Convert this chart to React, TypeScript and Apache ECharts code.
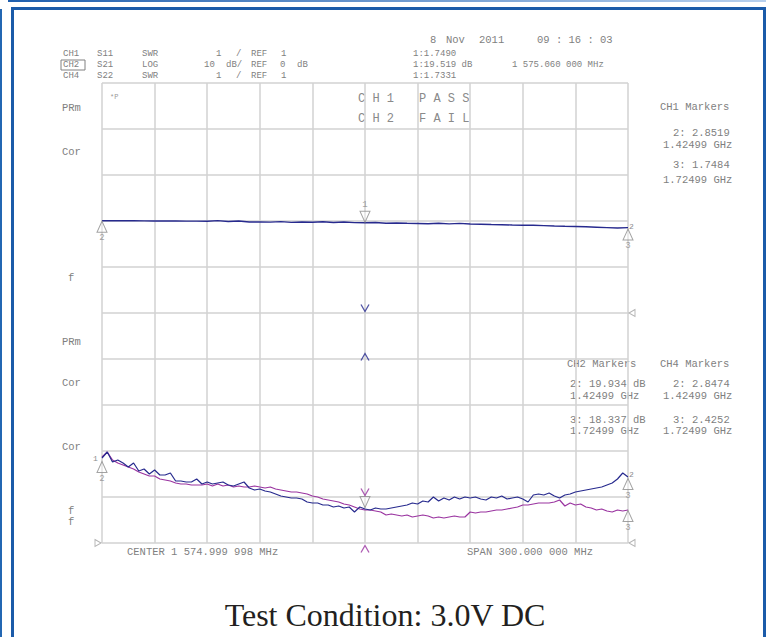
import React, { useEffect, useRef } from "react";
import * as echarts from "echarts";

// Sweep: 1425 MHz .. 1725 MHz (x values are MHz offset from start of span)
const SPAN_MHZ = 300;
const CH1_STEP_MHZ = 6;
const CH24_STEP_MHZ = 3;

// Screen level of each trace, 46 units per graticule division, 0 = bottom line
const ch1Level = [
  322.3, 322.3, 322.2, 322.2, 322.1, 322.0, 322.0, 322.0, 321.9, 321.9,
  321.8, 322.4, 321.5, 322.0, 321.0, 321.0, 320.9, 321.4, 320.6, 321.0,
  320.7, 321.2, 320.5, 321.0, 320.4, 320.2, 320.5, 319.8, 320.0, 319.7,
  319.5, 319.2, 319.7, 319.1, 319.6, 319.0, 318.8, 318.5, 318.3, 318.0,
  317.8, 317.7, 317.4, 317.0, 316.7, 316.5, 316.2, 315.8, 315.4, 315.0,
  315.4,
];

const ch4Level = [
  85, 91, 81, 83, 80, 76, 80, 72, 74, 69,
  73, 68, 68, 70, 62, 62, 61, 61, 64, 59,
  61, 59, 60, 61, 58, 57, 59, 61, 55, 53,
  54, 52, 51, 49, 47, 46, 45, 45, 44, 41,
  40, 40, 38, 38, 36, 37, 35, 36, 31, 36,
  34, 33, 35, 34, 34, 35, 36, 37, 38, 40,
  39, 42, 41, 46, 42, 45, 43, 46, 44, 46,
  45, 46, 44, 43, 46, 45, 47, 44, 45, 46,
  44, 41, 48, 49, 48, 50, 47, 45, 48, 49,
  51, 52, 53, 54, 55, 56, 58, 60, 64, 70,
  66,
];

const ch2Level = [
  86, 91, 83, 80, 78, 76, 74, 71, 69, 67,
  67, 64, 63, 62, 60, 59, 59, 58, 58, 58,
  59, 57, 59, 57, 58, 56, 57, 56, 56, 57,
  56, 55, 56, 54, 53, 52, 51, 51, 50, 49,
  47, 46, 44, 43, 42, 41, 39, 38, 36, 34,
  33, 33, 32, 31, 28, 29, 28, 27, 28, 26,
  27, 28, 27, 25, 26, 25, 26, 27, 26, 26,
  31, 30, 31, 31, 32, 33, 33, 34, 35, 36,
  38, 38, 39, 40, 40, 40, 41, 43, 37, 40,
  38, 39, 36, 35, 33, 34, 32, 31, 33, 32,
  33,
];

// marker 1 (centre), marker 2 (start), marker 3 (stop), MHz offset
const markerFreqMHz = [150, 0, 300];
// off-screen marker indicators at marker 1 frequency
const offscreenNavyLevels = [235, 186];
const offscreenNavyDown = [true, false];
const offscreenPurpleLevels = [-6];
// reference-position arrows
const refLevelCh1 = 230;
const refLevelCh24 = 0;

const MONO = '"Liberation Mono", "DejaVu Sans Mono", monospace';
const TXT = "#7f7f7f";
const NAVY = "#272a8e";
const PURPLE = "#9a34a0";

const headerRows: [string, number, number][] = [
  ["CH1", 63, 54], ["S11", 97, 54], ["SWR", 142, 54], ["1", 216, 54], ["/", 236, 54], ["REF", 251, 54], ["1", 281, 54],
  ["CH2", 63, 65], ["S21", 97, 65], ["LOG", 142, 65], ["10", 204, 65], ["dB/", 226, 65], ["REF", 251, 65], ["0", 280, 65], ["dB", 297, 65],
  ["CH4", 63, 76], ["S22", 97, 76], ["SWR", 142, 76], ["1", 216, 76], ["/", 236, 76], ["REF", 251, 76], ["1", 281, 76],
  ["1:1.7490", 413, 54], ["1:19.519 dB", 413, 65], ["1 575.060 000 MHz", 512, 65], ["1:1.7331", 413, 76],
];

const headerTexts: [string, number, number][] = [
  ["8", 430, 40], ["Nov", 446, 40], ["2011", 479, 40], ["09 : 16 : 03", 537, 40],
  ["PRm", 62, 108], ["Cor", 62, 152], ["f", 68, 278], ["PRm", 62, 342], ["Cor", 62, 383], ["Cor", 62, 447], ["f", 68, 511], ["f", 68, 522],
  ["CH1 Markers", 660, 107], ["2: 2.8519", 673, 133], ["1.42499 GHz", 663, 145], ["3: 1.7484", 673, 165], ["1.72499 GHz", 663, 180],
  ["CH2 Markers", 567, 364], ["CH4 Markers", 660, 364],
  ["2: 19.934 dB", 570, 384], ["1.42499 GHz", 570, 396], ["3: 18.337 dB", 570, 420], ["1.72499 GHz", 570, 431],
  ["2: 2.8474", 673, 384], ["1.42499 GHz", 663, 396], ["3: 2.4252", 673, 420], ["1.72499 GHz", 663, 431],
  ["CENTER 1 574.999 998 MHz", 127, 552], ["SPAN 300.000 000 MHz", 467, 552],
];

const bigTexts: [string, number, number][] = [
  ["C H 1", 358, 99], ["P A S S", 419, 99],
  ["C H 2", 358, 119], ["F A I L", 419, 119],
];

const smallTags: [string, number, number][] = [
  ["1", 93, 458], ["2", 629, 226], ["2", 629, 474],
];

const UP_TRI = "path://M5 0 L10 11 L0 11 Z";
const DOWN_TRI = "path://M0 0 L10 0 L5 11 Z";
const RIGHT_TRI = "path://M0 0 L7 3.5 L0 7 Z";
const LEFT_TRI = "path://M7 0 L0 3.5 L7 7 Z";
const V_MARK = "path://M0 0 L4 7 L8 0";
const CARET_MARK = "path://M0 7 L4 0 L8 7";

function App() {
  const ref = useRef<HTMLDivElement>(null);

  useEffect(() => {
    if (!ref.current) return;
    const chart = echarts.init(ref.current, null, { renderer: "svg" });

    const ch1Data = ch1Level.map((v, i) => [i * CH1_STEP_MHZ, v]);
    const ch4Data = ch4Level.map((v, i) => [i * CH24_STEP_MHZ, v]);
    const ch2Data = ch2Level.map((v, i) => [i * CH24_STEP_MHZ, v]);

    const at = (arr: number[], step: number, f: number) => arr[Math.round(f / step)];

    const triStyle = { color: "rgba(255,255,255,0.5)", borderColor: "#8c8c8c", borderWidth: 1 };
    const lbl = (text: string, pos: string) => ({
      show: true, formatter: text, position: pos, distance: 1,
      color: "#8c8c8c", fontSize: 9, fontFamily: MONO,
    });

    const markerItems: any[] = [];
    // CH1 markers
    markerItems.push({ value: [markerFreqMHz[0], at(ch1Level, CH1_STEP_MHZ, markerFreqMHz[0])], symbol: DOWN_TRI, symbolSize: [10, 11], symbolOffset: [0, -6], label: lbl("1", "top") });
    markerItems.push({ value: [markerFreqMHz[1], at(ch1Level, CH1_STEP_MHZ, markerFreqMHz[1])], symbol: UP_TRI, symbolSize: [10, 11], symbolOffset: [0, 6], label: lbl("2", "bottom") });
    markerItems.push({ value: [markerFreqMHz[2], at(ch1Level, CH1_STEP_MHZ, markerFreqMHz[2])], symbol: UP_TRI, symbolSize: [10, 11], symbolOffset: [0, 7], label: lbl("3", "bottom") });
    // CH2/CH4 markers
    markerItems.push({ value: [markerFreqMHz[1], at(ch4Level, CH24_STEP_MHZ, markerFreqMHz[1])], symbol: UP_TRI, symbolSize: [10, 11], symbolOffset: [0, 9], label: lbl("2", "bottom") });
    markerItems.push({ value: [markerFreqMHz[0], at(ch4Level, CH24_STEP_MHZ, markerFreqMHz[0])], symbol: DOWN_TRI, symbolSize: [10, 11], symbolOffset: [0, -7], label: { show: false } });
    markerItems.push({ value: [markerFreqMHz[2], at(ch4Level, CH24_STEP_MHZ, markerFreqMHz[2])], symbol: UP_TRI, symbolSize: [10, 11], symbolOffset: [0, 7], label: lbl("3", "bottom") });
    markerItems.push({ value: [markerFreqMHz[2], at(ch2Level, CH24_STEP_MHZ, markerFreqMHz[2])], symbol: UP_TRI, symbolSize: [10, 11], symbolOffset: [0, 6], label: lbl("3", "bottom") });

    const navyIndicators = offscreenNavyLevels.map((v, i) => ({
      value: [markerFreqMHz[0], v],
      symbol: offscreenNavyDown[i] ? V_MARK : CARET_MARK,
    }));
    const purpleIndicators: any[] = offscreenPurpleLevels.map((v) => ({ value: [markerFreqMHz[0], v], symbol: CARET_MARK }));
    purpleIndicators.push({ value: [markerFreqMHz[0], at(ch2Level, CH24_STEP_MHZ, markerFreqMHz[0])], symbol: V_MARK, symbolOffset: [0, -18] });

    const refItems = [
      { value: [SPAN_MHZ, refLevelCh1], symbol: LEFT_TRI, symbolOffset: [4, 0] },
      { value: [0, refLevelCh24], symbol: RIGHT_TRI, symbolOffset: [-4, 0] },
      { value: [SPAN_MHZ, refLevelCh24], symbol: LEFT_TRI, symbolOffset: [4, 0] },
    ];

    const gridLine = { show: true, lineStyle: { color: "#d2d2d2", width: 1.5 } };

    const textEl = (t: [string, number, number], size: number, fill: string, family: string) => ({
      type: "text",
      silent: true,
      style: {
        text: t[0], x: t[1], y: t[2], fill, fontSize: size, fontFamily: family,
        textAlign: "left", textVerticalAlign: "middle", verticalAlign: "middle",
      },
    });

    const graphics: any[] = [
      // blue frame
      { type: "rect", shape: { x: 0, y: 9, width: 2, height: 628 }, style: { fill: "#2367b3" } },
      {
        type: "rect", shape: { x: 8, y: 0, width: 758, height: 2 },
        style: {
          fill: new echarts.graphic.LinearGradient(0, 0, 1, 0, [
            { offset: 0, color: "#1f5fae" },
            { offset: 1, color: "#b7d0ee" },
          ]),
        },
      },
      { type: "rect", shape: { x: 11, y: 7, width: 3, height: 630 }, style: { fill: "#1b5ba9" } },
      { type: "rect", shape: { x: 11, y: 7, width: 755, height: 3 }, style: { fill: "#1b5ba9" } },
      { type: "rect", shape: { x: 763, y: 7, width: 3, height: 630 }, style: { fill: "#1b5ba9" } },
      // CH2 active box
      { type: "rect", shape: { x: 61, y: 60, width: 24, height: 10 }, style: { fill: "none", stroke: "#808080", lineWidth: 1 } },
      textEl(["*P", 110, 97], 7, "#9a9a9a", MONO),
      ...headerRows.map((t) => textEl(t, 9, TXT, MONO)),
      ...headerTexts.map((t) => textEl(t, 10.5, TXT, MONO)),
      ...bigTexts.map((t) => textEl(t, 12, "#8a8a8a", MONO)),
      ...smallTags.map((t) => textEl(t, 8, "#8c8c8c", MONO)),
      {
        type: "text",
        silent: true,
        style: {
          text: "Test Condition: 3.0V DC", x: 385, y: 615, fill: "#231f20",
          fontSize: 32, fontFamily: '"Liberation Serif", "Times New Roman", serif',
          textAlign: "center", textVerticalAlign: "middle", verticalAlign: "middle",
        },
      },
    ];

    const option: any = {
      animation: false,
      backgroundColor: "#ffffff",
      grid: { left: 102, top: 83, width: 526, height: 460, containLabel: false },
      xAxis: {
        type: "value", min: 0, max: SPAN_MHZ, interval: 30,
        axisLine: { show: false }, axisTick: { show: false }, axisLabel: { show: false },
        splitLine: gridLine,
      },
      yAxis: {
        type: "value", min: 0, max: 460, interval: 46,
        axisLine: { show: false }, axisTick: { show: false }, axisLabel: { show: false },
        splitLine: gridLine,
      },
      series: [
        { name: "CH1 S11 SWR", type: "line", data: ch1Data, showSymbol: false, symbol: "none", lineStyle: { color: NAVY, width: 1.4 }, z: 3 },
        { name: "CH2 S21 LOG", type: "line", data: ch2Data, showSymbol: false, symbol: "none", lineStyle: { color: PURPLE, width: 1.2 }, z: 3 },
        { name: "CH4 S22 SWR", type: "line", data: ch4Data, showSymbol: false, symbol: "none", lineStyle: { color: NAVY, width: 1.2 }, z: 4 },
        { name: "markers", type: "scatter", data: markerItems, itemStyle: triStyle, z: 5, clip: false, silent: true },
        { name: "navy indicators", type: "scatter", data: navyIndicators, symbolSize: [8, 7], itemStyle: { color: "rgba(0,0,0,0)", borderColor: NAVY, borderWidth: 1.2 }, z: 5, clip: false, silent: true },
        { name: "purple indicators", type: "scatter", data: purpleIndicators, symbolSize: [8, 7], itemStyle: { color: "rgba(0,0,0,0)", borderColor: PURPLE, borderWidth: 1.2 }, z: 6, clip: false, silent: true },
        { name: "ref", type: "scatter", data: refItems, symbolSize: [6, 7], itemStyle: { color: "#ffffff", borderColor: "#a0a0a0", borderWidth: 1 }, z: 5, clip: false, silent: true },
      ],
      graphic: { elements: graphics },
    };

    chart.setOption(option);
    return () => chart.dispose();
  }, []);

  return (
    <div
      ref={ref}
      style={{ position: "fixed", left: 0, top: 0, width: 769, height: 637, background: "#ffffff" }}
    />
  );
}

export default App;
